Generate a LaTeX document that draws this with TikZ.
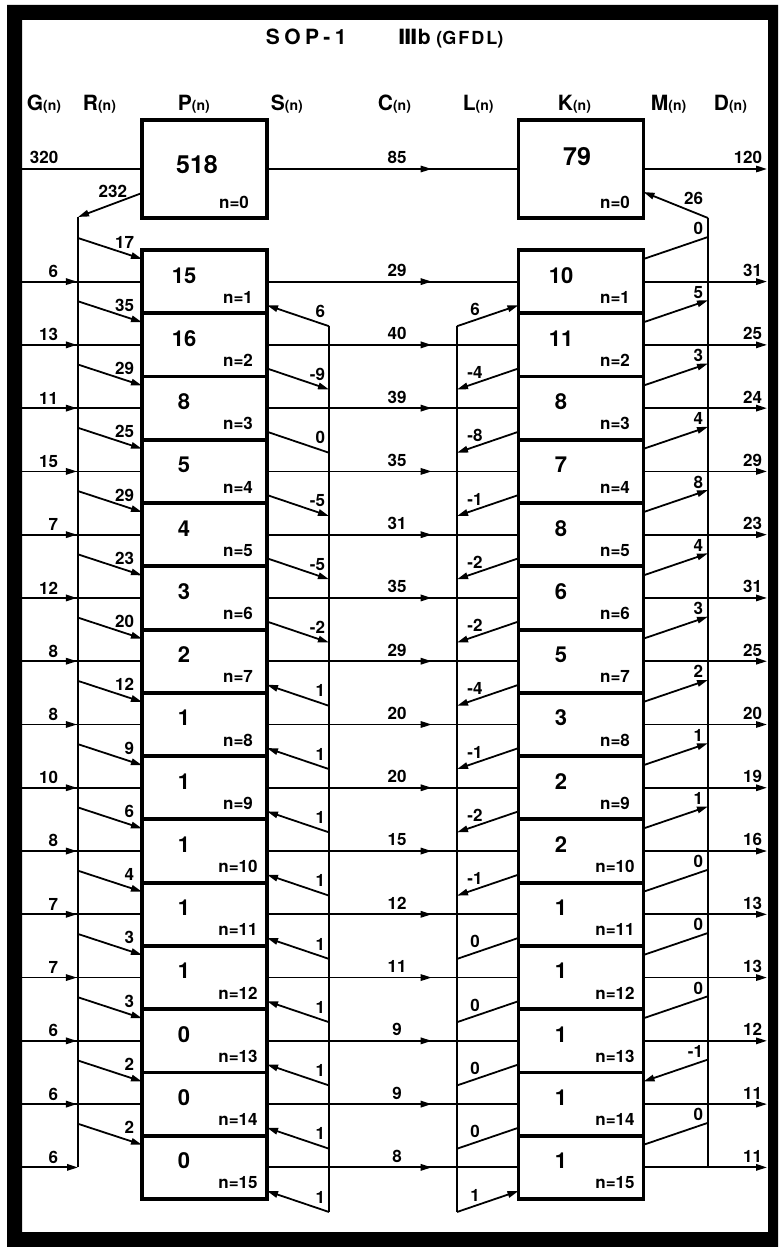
\documentclass[tikz,border=0pt]{standalone}
\usepackage{fontspec}
\setmainfont{TeX Gyre Heros}
\newfontfamily\numeralfont{DejaVu Sans}
\usetikzlibrary{
    arrows.meta,
    decorations.markings
}

\newcommand{\nsub}{{\fontsize{7}{7}\selectfont(n)}}

\begin{document}
\begin{tikzpicture}[
    x=0.5pt, y=-0.5pt,
    line width=0.9pt,
    >={Triangle[length=5.5pt,width=3.2pt]},
    box/.style={
        rectangle,
        draw=black,
        line width=1.9pt,
        minimum width=62.5pt,
        minimum height=31.6pt,
        inner sep=0pt,
        outer sep=0pt
    },
    head/.style={
        anchor=base west,
        inner sep=0pt,
        font=\bfseries\fontsize{10.5}{10.5}\selectfont
    },
    val/.style={
        anchor=base,
        inner sep=0pt,
        font=\bfseries\fontsize{11}{11}\selectfont
    },
    nlab/.style={
        anchor=base,
        inner sep=0pt,
        font=\bfseries\fontsize{8.5}{8.5}\selectfont
    },
    elab/.style={
        inner sep=0pt,
        font=\bfseries\fontsize{8.5}{8.5}\selectfont
    },
    midarrow/.style={
        postaction={decorate},
        decoration={markings, mark=at position #1 with {\arrow{>}}}
    },
    indir/.code={\ifnum#1>0 \tikzset{<-}\else\ifnum#1<0 \tikzset{->}\fi\fi},
    outdir/.code={\ifnum#1>0 \tikzset{->}\else\ifnum#1<0 \tikzset{<-}\fi\fi}
]

\useasboundingbox (0,0) rectangle (778,1247);

% =========================================================
% Frame and titles
% =========================================================
\fill[even odd rule] (7,5) rectangle (778,1247) (22,20) rectangle (768,1232);

\node[head, anchor=base west] (title) at (265,45)
{S\kern2.2pt O\kern2.2pt P\kern2.2pt -\kern2.2pt 1};
\node[head, anchor=base west] (subtitle) at (397,45)
{{\numeralfont Ⅲ}b {\fontsize{9}{9}\selectfont (G\kern1pt F\kern1pt D\kern1pt L)}};

\node[head] (hg) at (26,111) {G\nsub};
\node[head] (hr) at (82,111) {R\nsub};
\node[head] (hp) at (177,111) {P\nsub};
\node[head] (hs) at (270,111) {S\nsub};
\node[head] (hc) at (377,111) {C\nsub};
\node[head] (hl) at (462,111) {L\nsub};
\node[head] (hk) at (557,111) {K\nsub};
\node[head] (hm) at (650,111) {M\nsub};
\node[head] (hd) at (713,111) {D\nsub};

% =========================================================
% Top row (n=0)
% =========================================================
\node[box, minimum height=49pt] (p0) at (204.5,169) {};
\node[box, minimum height=49pt] (k0) at (581,169) {};
\node[val, font=\bfseries\fontsize{12.5}{12.5}\selectfont] (pv0) at (197,173) {518};
\node[val, font=\bfseries\fontsize{12.5}{12.5}\selectfont] (kv0) at (577,165) {79};
\node[nlab] (pn0) at (234,208) {n=0};
\node[nlab] (kn0) at (615,208) {n=0};

\coordinate (g0) at (22,169);
\coordinate (d0) at (767,169);
\coordinate (rtop) at (78,217);
\coordinate (mtop) at (708,218);

\draw (g0) -- (p0.west);
\node[elab, anchor=south west] (gl0) at (29,165) {320};
\draw[midarrow=0.655] (p0.east) -- (k0.west);
\node[elab, anchor=south] (cl0) at (397,165) {85};
\draw[->] (k0.east) -- (d0);
\node[elab, anchor=south east] (dl0) at (763,165) {120};

\draw[->] ([yshift=-12pt]p0.west) -- (rtop);
\node[elab, anchor=south east] (rl0) at (128,199) {232};
\draw[->] (mtop) -- ([yshift=-11.5pt]k0.east);
\node[elab, anchor=south east] (ml0) at (704,206) {26};

% =========================================================
% Rows n=1..15
% =========================================================
\foreach \n/\pv/\kv/\gv/\rv/\sv/\cv/\lv/\mv/\dv in {
    1/15/10/6/17/6/29/6/0/31,
    2/16/11/13/35/-9/40/-4/5/25,
    3/8/8/11/29/0/39/-8/3/24,
    4/5/7/15/25/-5/35/-1/4/29,
    5/4/8/7/29/-5/31/-2/8/23,
    6/3/6/12/23/-2/35/-2/4/31,
    7/2/5/8/20/1/29/-4/3/25,
    8/1/3/8/12/1/20/-1/2/20,
    9/1/2/10/9/1/20/-2/1/19,
    10/1/2/8/6/1/15/-1/1/16,
    11/1/1/7/4/1/12/0/0/13,
    12/1/1/7/3/1/11/0/0/13,
    13/0/1/6/3/1/9/0/0/12,
    14/0/1/6/2/1/9/0/-1/11,
    15/0/1/6/2/1/8/1/0/11}{
    \pgfmathsetmacro\ym{281.6+(\n-1)*63.27}
    \pgfmathsetmacro\yt{\ym-31.6}
    \pgfmathsetmacro\yb{\ym+31.6}

    \node[box] (p\n) at (204.5,\ym) {};
    \node[box] (k\n) at (581,\ym) {};
    \node[val] (pv\n) at (184,\yt+33) {\pv};
    \node[val] (kv\n) at (561,\yt+33) {\kv};
    \node[nlab] (pn\n) at (238,\yb-10) {n=\n};
    \node[nlab] (kn\n) at (615,\yb-10) {n=\n};

    \coordinate (g\n) at (22,\ym);
    \coordinate (rr\n) at (78,\ym);
    \coordinate (rb\n) at (78,\yt-12);
    \coordinate (sb\n) at (329,\yb+13);
    \coordinate (lb\n) at (457,\yb+13);
    \coordinate (mb\n) at (708,\yt-13);
    \coordinate (mm\n) at (708,\ym);
    \coordinate (d\n) at (767,\ym);

    % G(n) and R(n)
    \ifnum\n<15
        \draw[midarrow=0.458] (g\n) -- (p\n.west);
    \else
        \draw[->] (g\n) -- (rr\n);
    \fi
    \node[elab, anchor=south east] (gl\n) at (59,\ym-3) {\gv};
    \draw[->] (rb\n) -- ([yshift=-4.5pt]p\n.north west);
    \node[elab, anchor=south east] (rl\n) at (135,\yt-1) {\rv};

    % S(n), C(n), L(n)
    \draw[indir=\sv] ([yshift=4pt]p\n.south east) -- (sb\n);
    \node[elab, anchor=south east] (sl\n) at (326,\yb+5) {\sv};
    \draw[midarrow=0.655] (p\n.east) -- (k\n.west);
    \node[elab, anchor=south] (cl\n) at (397,\ym-4) {\cv};
    \draw[indir=\lv] ([yshift=4pt]k\n.south west) -- (lb\n);
    \node[elab, anchor=south] (ll\n) at (475,\yb+3) {\lv};

    % M(n) and D(n)
    \draw[outdir=\mv] ([yshift=-4.5pt]k\n.north east) -- (mb\n);
    \node[elab, anchor=south east] (ml\n) at (704,\yt-14) {\mv};
    \draw[->] (k\n.east) -- (d\n);
    \node[elab, anchor=south east] (dl\n) at (763,\ym-4) {\dv};
}

% =========================================================
% Collecting lines
% =========================================================
\draw (rtop) -- (rr15);
\draw (sb1) -- (sb15);
\draw (lb1) -- (lb15);
\draw (mtop) -- (mm15);

\end{tikzpicture}
\end{document}
